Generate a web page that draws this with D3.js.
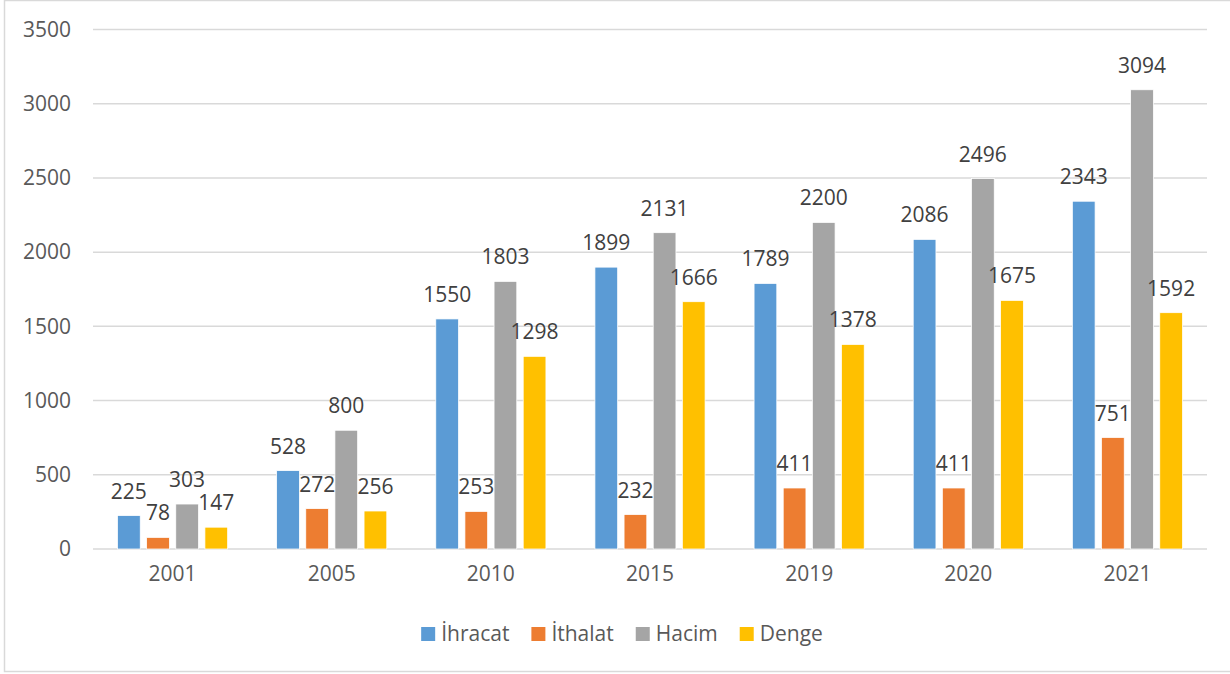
<!DOCTYPE html>
<html lang="tr">
<head>
  <meta charset="utf-8">
  <title>Dış Ticaret</title>
  <script src="https://d3js.org/d3.v7.min.js"></script>
  <style>
    body { margin: 0; background: #fff; }
    text { font-family: "Open Sans", sans-serif; }
    .tick text { fill: #595959; font-size: 21px; }
    .value { fill: #404040; font-size: 21px; text-anchor: middle; }
    .legend text { fill: #595959; font-size: 21px; }
  </style>
</head>
<body>
  <div id="chart"></div>
  <script>
    var years = ["2001", "2005", "2010", "2015", "2019", "2020", "2021"];
    var seriesNames = ["İhracat", "İthalat", "Hacim", "Denge"];
    var ihracat = [225, 528, 1550, 1899, 1789, 2086, 2343];
    var ithalat = [78, 272, 253, 232, 411, 411, 751];
    var hacim = [303, 800, 1803, 2131, 2200, 2496, 3094];
    var denge = [147, 256, 1298, 1666, 1378, 1675, 1592];
    var yTicks = [0, 500, 1000, 1500, 2000, 2500, 3000, 3500];
    var colors = ["#5B9BD5", "#ED7D31", "#A5A5A5", "#FFC000"];

    var values = [ihracat, ithalat, hacim, denge];
    var width = 1230, height = 674;
    var margin = {top: 29.5, left: 93, right: 23, bottom: 125};

    var svg = d3.select("#chart").append("svg")
      .attr("width", width)
      .attr("height", height);

    // chart frame
    svg.append("rect")
      .attr("x", 4.5).attr("y", 0.5)
      .attr("width", 1240).attr("height", 671)
      .attr("fill", "none")
      .attr("stroke", "#D9D9D9")
      .attr("stroke-width", 1.5);

    var x0 = d3.scaleBand()
      .domain(years)
      .range([margin.left, width - margin.right])
      .paddingInner(0)
      .paddingOuter(0);

    var x1 = d3.scaleBand()
      .domain(seriesNames)
      .range([24.5, x0.bandwidth() - 24.5])
      .paddingInner(0.22)
      .paddingOuter(0);

    var y = d3.scaleLinear()
      .domain([0, 3500])
      .range([height - margin.bottom, margin.top]);

    // grid lines
    svg.append("g")
      .selectAll("line")
      .data(yTicks)
      .join("line")
        .attr("x1", margin.left)
        .attr("x2", width - margin.right)
        .attr("y1", function(d) { return y(d); })
        .attr("y2", function(d) { return y(d); })
        .attr("stroke", "#D9D9D9")
        .attr("stroke-width", 1.5);

    var yAxis = svg.append("g")
      .attr("transform", "translate(" + (margin.left - 22) + ",0)")
      .call(d3.axisLeft(y).tickValues(yTicks).tickFormat(d3.format("d")).tickSize(0).tickPadding(0));
    yAxis.select(".domain").remove();

    var xAxis = svg.append("g")
      .attr("transform", "translate(0," + y(0) + ")")
      .call(d3.axisBottom(x0).tickSize(0).tickPadding(17));
    xAxis.select(".domain").remove();

    var rows = [];
    years.forEach(function(yr, i) {
      seriesNames.forEach(function(s, j) {
        rows.push({year: yr, series: s, idx: j, value: values[j][i]});
      });
    });

    var groups = svg.append("g");

    groups.selectAll("rect")
      .data(rows)
      .join("rect")
        .attr("x", function(d) { return x0(d.year) + x1(d.series); })
        .attr("width", x1.bandwidth())
        .attr("y", function(d) { return y(d.value); })
        .attr("height", function(d) { return y(0) - y(d.value); })
        .attr("fill", function(d) { return colors[d.idx]; })
        .attr("stroke", "#fff")
        .attr("stroke-width", 0.75);

    groups.selectAll("text")
      .data(rows)
      .join("text")
        .attr("class", "value")
        .attr("x", function(d) { return x0(d.year) + x1(d.series) + x1.bandwidth() / 2; })
        .attr("y", function(d) { return y(d.value) - 17; })
        .text(function(d) { return d.value; });

    // legend
    var legend = svg.append("g").attr("class", "legend");
    var items = legend.selectAll("g")
      .data(seriesNames)
      .join("g");
    items.append("rect")
      .attr("width", 14).attr("height", 14)
      .attr("y", -14)
      .attr("fill", function(d, i) { return colors[i]; });
    items.append("text")
      .attr("x", 20)
      .attr("y", 0)
      .text(function(d) { return d; });

    var pos = 0;
    items.each(function() {
      var g = d3.select(this);
      g.attr("transform", "translate(" + pos + ",0)");
      pos += 20 + g.select("text").node().getComputedTextLength() + 22;
    });
    var total = pos - 22;
    legend.attr("transform", "translate(" + (622 - total / 2) + ",641)");
  </script>
</body>
</html>
